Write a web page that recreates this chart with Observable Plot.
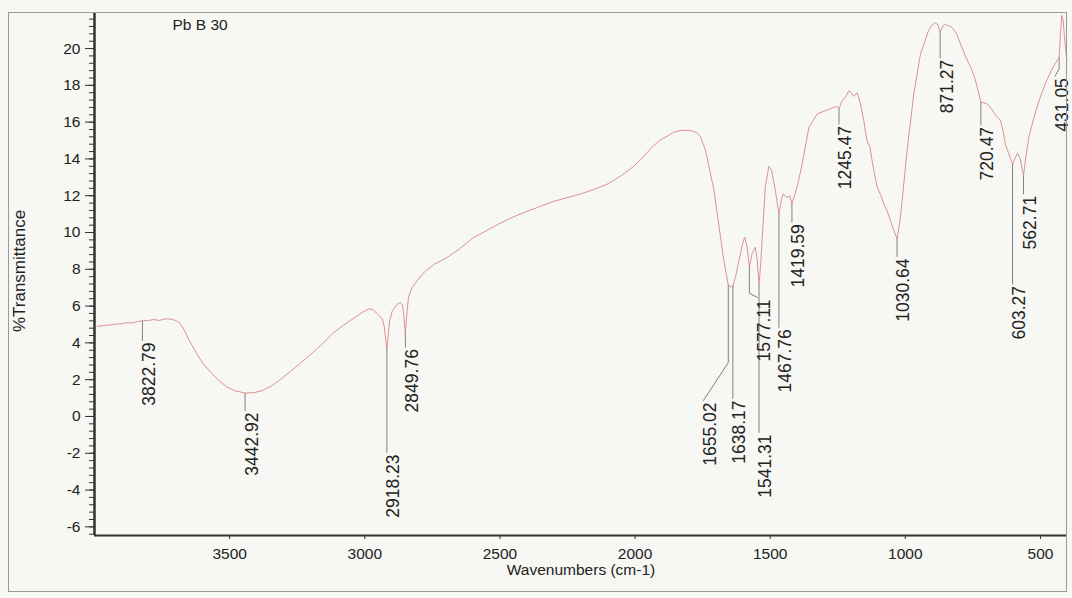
<!DOCTYPE html>
<html><head><meta charset="utf-8">
<script src="https://cdn.jsdelivr.net/npm/d3@7"></script>
<script src="https://cdn.jsdelivr.net/npm/@observablehq/plot@0.6"></script>
<style>
html,body{margin:0;padding:0;background:#f7f7f3;}
#chart{width:1072px;height:598px;}
</style></head><body><div id="chart"></div>
<script>
// ---- data ----
const sampleName = "Pb B 30";
const xLabel = "Wavenumbers (cm-1)";
const yLabel = "%Transmittance";
const xTickValues = [3500, 3000, 2500, 2000, 1500, 1000, 500];
const yTickValues = [-6, -4, -2, 0, 2, 4, 6, 8, 10, 12, 14, 16, 18, 20];

const wavenumbers = [3990,3960,3930,3900,3880,3860,3840,3822.79,3800,3780,3760,3740,3720,3700,3685,3670,3650,3625,3600,3570,3540,3510,3480,3442.92,3410,3380,3340,3300,3250,3206,3160,3120,3080,3040,3010,2985,2970,2955,2945,2935,2928,2922,2918.23,2914,2908,2898,2880,2868,2860,2855,2849.76,2845,2838,2825,2800,2776,2740,2700,2650,2600,2550,2500,2450,2400,2346,2300,2250,2200,2150,2100,2050,2005,1970,1940,1910,1880,1857,1830,1800,1783,1770,1758,1740,1721,1708,1696,1684,1672,1662,1655.02,1646,1638.17,1628,1618,1610,1602,1595,1585,1577.11,1567,1555,1548,1541.31,1535,1530,1518,1505,1495,1481,1467.76,1458,1452,1438,1428,1419.59,1410,1400,1382,1357,1326,1300,1265,1252,1245.47,1236,1222,1209,1200,1191,1178,1166,1154,1142,1130,1123,1105,1090,1080,1068,1055,1042,1030.64,1020,1012,994,969,944,914,900,889,880,871.27,860,852,840,827,810,796,778,759,745,734,720.47,710,698,680,667,648,638,630,615,603.27,595,585,575,562.71,555,543,525,513,495,476,460,445,436,431.05,426,421,416,411,406,402];
const transmittance = [4.9,4.95,5.0,5.05,5.1,5.08,5.16,5.2,5.22,5.27,5.22,5.3,5.3,5.22,5.1,4.75,4.15,3.5,2.9,2.4,1.95,1.6,1.4,1.27,1.3,1.4,1.7,2.15,2.75,3.3,3.9,4.5,4.95,5.35,5.65,5.85,5.8,5.6,5.45,5.3,4.9,4.1,3.7,4.3,5.2,5.75,6.1,6.2,6.05,5.4,4.5,5.5,6.5,7.0,7.5,7.9,8.3,8.6,9.1,9.7,10.1,10.5,10.85,11.15,11.45,11.7,11.9,12.1,12.35,12.65,13.1,13.6,14.1,14.6,15.0,15.25,15.45,15.55,15.55,15.5,15.4,15.2,14.5,13.2,12.3,11.0,9.8,8.5,7.7,7.15,7.05,7.1,7.6,8.3,8.85,9.4,9.75,9.2,8.1,8.85,9.2,8.5,7.2,8.3,9.6,12.5,13.6,13.4,12.3,11.0,11.8,12.1,11.9,12.0,11.6,12.0,12.5,13.7,15.7,16.45,16.6,16.8,16.85,16.7,17.1,17.35,17.7,17.6,17.4,17.6,17.0,16.1,15.0,14.6,13.9,12.5,12.0,11.55,11.2,10.65,10.1,9.65,10.6,11.7,14.4,17.5,19.7,20.98,21.3,21.4,21.3,20.9,21.25,21.3,21.25,21.15,20.8,20.25,19.6,19.0,18.5,17.9,17.1,17.05,17.0,16.7,16.4,16.1,15.5,14.8,14.2,13.7,14.0,14.3,14.0,13.1,14.0,15.2,16.2,16.8,17.6,18.3,18.8,19.2,19.4,19.5,20.8,21.8,21.5,20.6,19.8,19.3];

const peakWavenumbers       = [3822.79,3442.92,2918.23,2849.76,1655.02,1638.17,1577.11,1541.31,1467.76,1419.59,1245.47,1030.64,871.27,720.47,603.27,562.71,431.05];
const peakLabelWavenumbers  = [3822.79,3442.92,2918.23,2849.76,1747,   1638.17,1547,   1541.31,1467.76,1419.59,1245.47,1030.64,871.27,720.47,603.27,562.71,446];
const peakLabelTransmittance= [4.13,   0.33,   -1.96,  3.77,   0.87,   0.98,   6.47,   -0.87,  4.85,   10.56,  15.9,   8.7,    19.5,  15.85, 7.2,   12.1,  18.5];
const peakLeaderBend        = [null,   null,   null,   null,   2.93,   null,   6.7,    null,   null,   null,   null,   null,   null,  null,  null,  null,  18.9];

// ---- build tables ----
const spectrum = wavenumbers.map((w, i) => ({w, t: transmittance[i]}));
const tAt = new Map(spectrum.map(d => [d.w, d.t]));
const leaders = [];
peakWavenumbers.forEach((w, i) => {
  leaders.push({id: i, w, t: tAt.get(w)});
  if (peakLeaderBend[i] != null) leaders.push({id: i, w, t: peakLeaderBend[i]});
  leaders.push({id: i, w: peakLabelWavenumbers[i], t: peakLabelTransmittance[i]});
});
const labels = peakWavenumbers.map((w, i) => ({
  w: peakLabelWavenumbers[i], t: peakLabelTransmittance[i], text: w.toFixed(2)
}));
const minorY = d3.range(-64, 220, 4).map(d => d / 10);

const font = "'Liberation Sans', Arial, Helvetica, sans-serif";
const plot = Plot.plot({
  width: 1072, height: 598,
  marginLeft: 94, marginRight: 5, marginTop: 12, marginBottom: 63,
  style: {background: "transparent", color: "#222", fontFamily: font, overflow: "visible"},
  x: {domain: [4000, 400]},
  y: {domain: [-6.47, 21.96]},
  marks: [
    Plot.axisY({ticks: minorY, tickSize: 5, tickFormat: () => "", fill: "none", label: null, stroke: "#333"}),
    Plot.axisY({ticks: yTickValues, tickSize: 9, tickPadding: 5, tickFormat: d => String(d), fontSize: 15.5, label: null, stroke: "#333"}),
    Plot.axisX({ticks: xTickValues, tickSize: 4, tickPadding: 8, tickFormat: d => String(d), fontSize: 15.5, label: null, stroke: "#333"}),
    Plot.ruleX([4000], {stroke: "#333", strokeWidth: 2.5}),
    Plot.ruleY([-6.47], {stroke: "#333", strokeWidth: 2}),
    Plot.line(leaders, {x: "w", y: "t", z: "id", stroke: "#808080", strokeWidth: 1}),
    Plot.line(spectrum, {x: "w", y: "t", stroke: "#d68888", strokeWidth: 0.9}),
    Plot.text(labels, {x: "w", y: "t", text: "text", rotate: -90, textAnchor: "end", lineAnchor: "top", dy: 2, fontSize: 17.5, fill: "#222"}),
    Plot.text([sampleName], {frameAnchor: "top-left", text: d => d, dx: 78, dy: 6, textAnchor: "start", lineAnchor: "top", fontSize: 15.5, fill: "#222"}),
    Plot.text([yLabel], {frameAnchor: "left", text: d => d, dx: -75, dy: -3, rotate: -90, textAnchor: "middle", lineAnchor: "middle", fontSize: 17, fill: "#222"}),
    Plot.text([xLabel], {frameAnchor: "bottom", text: d => d, dy: 35, textAnchor: "middle", lineAnchor: "middle", fontSize: 15.5, fill: "#222"})
  ]
});
d3.select(plot).append("rect")
  .attr("x", 8.5).attr("y", 12.5).attr("width", 1058).attr("height", 579)
  .attr("fill", "none").attr("stroke", "#9a9a9a").attr("stroke-width", 1);
document.getElementById("chart").appendChild(plot);
</script></body></html>
